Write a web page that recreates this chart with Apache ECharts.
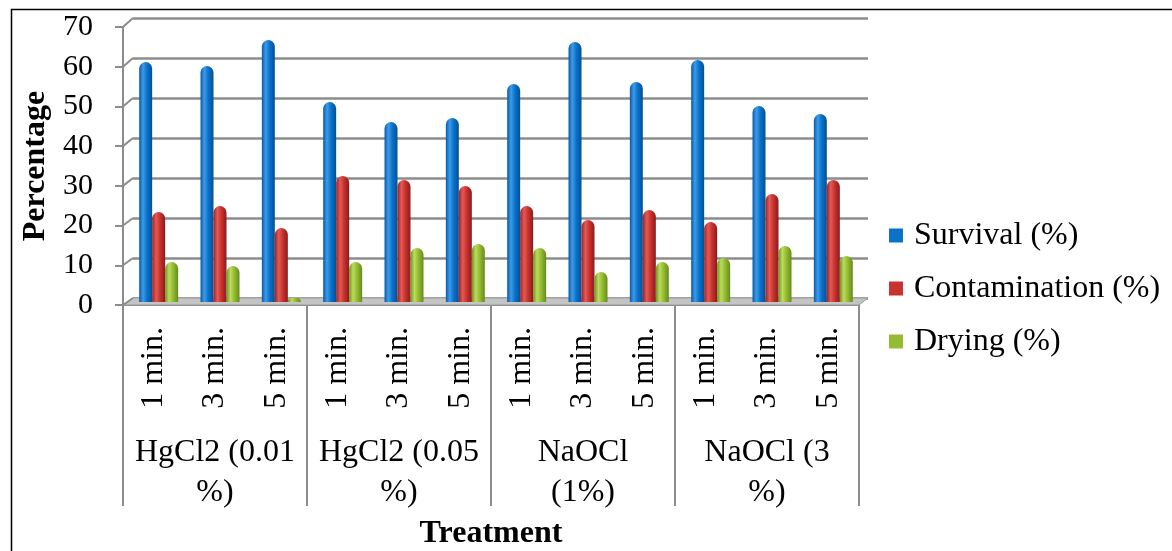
<!DOCTYPE html>
<html>
<head>
<meta charset="utf-8">
<script src="https://cdn.jsdelivr.net/npm/echarts@6/dist/echarts.min.js"></script>
<style>
html,body{margin:0;padding:0;background:#fff;}
#chart{width:1172px;height:551px;}
</style>
</head>
<body>
<div id="chart"></div>
<script>
// ---- data ----
const times = ['1 min.', '3 min.', '5 min.', '1 min.', '3 min.', '5 min.', '1 min.', '3 min.', '5 min.', '1 min.', '3 min.', '5 min.'];
const treatments = ['HgCl2 (0.01\n%)', 'HgCl2 (0.05\n%)', 'NaOCl\n(1%)', 'NaOCl (3\n%)'];
const survival = [60, 59, 65.5, 50, 45, 46, 54.5, 65, 55, 60.5, 49, 47];
const contamination = [22.5, 24, 18.5, 31.5, 30.5, 29, 24, 20.5, 23, 20, 27, 30.5];
const drying = [10, 9, 1, 10, 13.5, 14.5, 13.5, 7.5, 10, 11, 14, 11.5];
const seriesNames = ['Survival (%)', 'Contamination (%)', 'Drying (%)'];
const yTicks = [0, 10, 20, 30, 40, 50, 60, 70];

// ---- layout ----
const W = 1172, H = 551;
const L = {
  frontLeft: 123, frontRight: 859, frontTop: 27, frontBottom: 305,
  backLeft: 133, backRight: 868, backTop: 18, backBottom: 298,
  barShift: 5, barTop: 22, barBottom: 302
};
const FONT = '"Liberation Serif", "Times New Roman", serif';
const GRID = '#8c8c8c';

function cyl(dark, light, mid, edge) {
  return new echarts.graphic.LinearGradient(0, 0, 1, 0, [
    {offset: 0, color: dark},
    {offset: 0.3, color: light},
    {offset: 0.6, color: mid},
    {offset: 1, color: edge}
  ]);
}
const colors = [
  cyl('#0a5aa8', '#3b9bea', '#0a72c8', '#064f95'),
  cyl('#9e2222', '#e45a55', '#c8332f', '#8a1c1c'),
  cyl('#6c9420', '#bcdc5c', '#93bb33', '#668c1c')
];
const flat = ['#0a72c8', '#c8332f', '#93bb33'];
const dataSets = [survival, contamination, drying];

const chart = echarts.init(document.getElementById('chart'), null, {renderer: 'canvas'});

const backY = v => L.backBottom - v / 70 * (L.backBottom - L.backTop);

const option = {
  animation: false,
  backgroundColor: '#fff',
  grid: [
    {left: L.frontLeft, right: W - L.frontRight, top: L.frontTop, bottom: H - L.frontBottom, outerBoundsMode: 'none', containLabel: false},
    {left: L.frontLeft + L.barShift, right: W - L.frontRight - L.barShift, top: L.barTop, bottom: H - L.barBottom, outerBoundsMode: 'none', containLabel: false},
    {left: L.backLeft, right: W - L.backRight, top: L.backTop, bottom: H - L.backBottom, outerBoundsMode: 'none', containLabel: false}
  ],
  xAxis: [
    {
      gridIndex: 0, type: 'category', data: times, position: 'bottom',
      axisLine: {show: true, lineStyle: {color: GRID, width: 2}},
      axisTick: {show: false},
      axisLabel: {interval: 0, rotate: 90, margin: 22, fontFamily: FONT, fontSize: 32, color: '#000'}
    },
    {
      gridIndex: 0, type: 'category', data: treatments, position: 'bottom',
      axisLine: {show: false},
      axisTick: {show: true, length: 201, interval: 0, lineStyle: {color: GRID, width: 2}},
      axisLabel: {interval: 0, margin: 128, fontFamily: FONT, fontSize: 32, lineHeight: 40, color: '#000', align: 'center'},
      name: 'Treatment', nameLocation: 'middle', nameGap: 213,
      nameTextStyle: {fontFamily: FONT, fontSize: 32, fontWeight: 'bold', color: '#000'}
    },
    {gridIndex: 1, type: 'category', data: times, show: false},
    {gridIndex: 2, type: 'category', data: times, show: false}
  ],
  yAxis: [
    {
      gridIndex: 0, type: 'value', min: 0, max: 70, interval: 10,
      axisLine: {show: true, lineStyle: {color: GRID, width: 2}},
      axisTick: {show: true, length: 8, lineStyle: {color: GRID, width: 2}},
      splitLine: {show: false},
      axisLabel: {margin: 30, fontFamily: FONT, fontSize: 30, color: '#000', padding: [6, 0, 0, 0]},
      name: 'Percentage', nameLocation: 'middle', nameGap: 66,
      nameTextStyle: {fontFamily: FONT, fontSize: 32, fontWeight: 'bold', color: '#000'}
    },
    {gridIndex: 1, type: 'value', min: 0, max: 70, interval: 10, show: false},
    {
      gridIndex: 2, type: 'value', min: 0, max: 70, interval: 10,
      axisLine: {show: false}, axisTick: {show: false}, axisLabel: {show: false},
      splitLine: {show: true, lineStyle: {color: GRID, width: 2.5}}
    }
  ],
  legend: {
    orient: 'vertical', left: 884, top: 213,
    itemWidth: 14, itemHeight: 14, itemGap: 18, icon: 'rect',
    textStyle: {fontFamily: FONT, fontSize: 32, lineHeight: 35, color: '#000', padding: [0, 0, 0, 6]},
    data: seriesNames.map((n, i) => ({name: n, itemStyle: {color: flat[i]}}))
  },
  series: [
    // floor slab
    {
      type: 'custom', xAxisIndex: 0, yAxisIndex: 0, z: 1, silent: true,
      data: [[0, 0]],
      renderItem: function (params, api) {
        const y0 = api.coord([0, 0])[1];
        return {
          type: 'polygon',
          shape: {points: [[L.frontLeft, y0], [L.frontRight, y0], [L.backRight, backY(0)], [L.backLeft, backY(0)]]},
          style: {fill: '#c4c4c4', stroke: '#9a9a9a', lineWidth: 1}
        };
      }
    },
    // connectors from front ticks to back wall gridlines
    {
      type: 'custom', xAxisIndex: 0, yAxisIndex: 0, z: 1, silent: true,
      data: yTicks.map(v => [0, v]),
      renderItem: function (params, api) {
        const v = api.value(1);
        const yf = api.coord([0, v])[1];
        return {
          type: 'line',
          shape: {x1: L.frontLeft, y1: yf, x2: L.backLeft, y2: backY(v)},
          style: {stroke: GRID, lineWidth: 2}
        };
      }
    }
  ].concat(seriesNames.map((n, i) => ({
    name: n, type: 'bar', xAxisIndex: 2, yAxisIndex: 1, z: 3,
    data: dataSets[i], barWidth: 13, barGap: '0%',
    itemStyle: {color: colors[i], borderRadius: [6.5, 6.5, 0, 0]}
  }))),
  graphic: [
    {type: 'rect', left: 9, top: 7, z: 100, silent: true,
     shape: {x: 0, y: 0, width: 1300, height: 700},
     style: {fill: 'none', stroke: '#000', lineWidth: 1.5}}
  ]
};
chart.setOption(option);
</script>
</body>
</html>
